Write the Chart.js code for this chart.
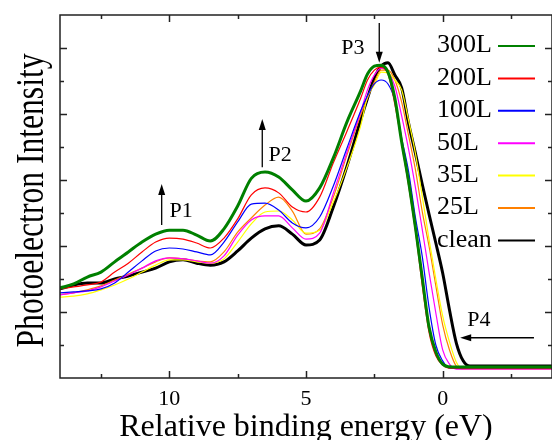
<!DOCTYPE html>
<html>
<head>
<meta charset="utf-8">
<script src="https://cdn.jsdelivr.net/npm/chart.js@4/dist/chart.umd.min.js"></script>
<style>
html, body { margin: 0; padding: 0; overflow: hidden; background: #fff; }
#wrap { width: 552px; height: 440px; overflow: hidden; }
</style>
</head>
<body>
<div id="wrap"><canvas id="xpsChart" width="560" height="440"></canvas></div>
<script>
// relative binding energy (eV), shared by all spectra
const energies = [14, 13.5, 13, 12.5, 12, 11.5, 11, 10.5, 10, 9.5, 9, 8.5, 8, 7.5, 7, 6.5, 6, 5.5, 5, 4.5,
    4, 3.5, 3, 2.75, 2.5, 2.25, 2, 1.75, 1.5, 1.25, 1, 0.75, 0.5, 0.25, 0, -0.25, -0.5, -0.75, -1, -2, -3, -4];

const int300L = [2.73, 2.85, 3.06, 3.21, 3.52, 3.82, 4.12, 4.36, 4.48, 4.48, 4.33, 4.15, 4.52, 5.21, 6.05, 6.24, 6.09, 5.70, 5.36, 5.76,
    6.67, 7.76, 8.70, 9.21, 9.45, 9.48, 9.27, 8.48, 7.15, 5.97, 4.58, 3.06, 1.55, 0.79, 0.42, 0.34, 0.33, 0.33, 0.33, 0.33, 0.33, 0.33];
const int200L = [2.70, 2.76, 2.82, 2.91, 3.21, 3.48, 3.82, 4.12, 4.24, 4.21, 4.09, 3.94, 4.24, 4.82, 5.55, 5.76, 5.61, 5.18, 5.03, 5.48,
    6.52, 7.48, 8.48, 9.03, 9.33, 9.42, 9.21, 8.30, 7.12, 5.85, 4.48, 2.82, 1.39, 0.67, 0.39, 0.30, 0.30, 0.30, 0.30, 0.30, 0.30, 0.30];
const int100L = [2.58, 2.61, 2.64, 2.70, 2.88, 3.21, 3.55, 3.85, 3.94, 3.91, 3.82, 3.73, 4.12, 4.73, 5.27, 5.30, 5.09, 4.70, 4.55, 4.88,
    5.82, 6.97, 8.09, 8.55, 8.91, 9.03, 8.91, 8.40, 7.27, 6.27, 4.88, 3.70, 2.15, 1.00, 0.52, 0.30, 0.30, 0.30, 0.30, 0.30, 0.30, 0.30];
const int50L = [2.52, 2.58, 2.64, 2.76, 2.94, 3.12, 3.33, 3.55, 3.64, 3.61, 3.55, 3.48, 3.70, 4.33, 4.79, 4.91, 4.91, 4.55, 4.21, 4.39,
    5.60, 6.85, 8.06, 8.73, 9.18, 9.39, 9.27, 8.85, 7.94, 6.94, 5.79, 4.52, 3.21, 1.97, 0.85, 0.42, 0.27, 0.27, 0.27, 0.27, 0.27, 0.27];
const int35L = [2.45, 2.48, 2.55, 2.67, 2.82, 3.00, 3.21, 3.42, 3.58, 3.58, 3.52, 3.48, 3.61, 4.12, 4.67, 5.03, 5.06, 4.79, 4.39, 4.48,
    5.33, 6.39, 7.64, 8.52, 8.88, 9.27, 9.24, 9.03, 8.73, 7.82, 6.82, 5.52, 4.21, 3.00, 1.88, 1.09, 0.48, 0.27, 0.27, 0.27, 0.27, 0.27];
const int25L = [2.52, 2.58, 2.67, 2.79, 2.97, 3.15, 3.33, 3.52, 3.64, 3.61, 3.55, 3.52, 3.82, 4.42, 4.85, 5.24, 5.48, 5.06, 4.36, 4.52,
    5.48, 6.76, 7.97, 8.48, 8.97, 9.33, 9.33, 9.03, 8.36, 7.36, 6.33, 5.06, 4.00, 2.79, 1.61, 0.85, 0.36, 0.27, 0.27, 0.27, 0.27, 0.27];
const intClean = [2.70, 2.82, 2.88, 2.88, 3.00, 3.09, 3.21, 3.33, 3.52, 3.58, 3.48, 3.42, 3.52, 3.85, 4.24, 4.52, 4.61, 4.36, 4.03, 4.18,
    5.18, 6.42, 7.82, 8.48, 9.09, 9.45, 9.55, 9.18, 8.79, 7.73, 6.82, 5.88, 4.97, 4.09, 3.18, 2.06, 1.06, 0.52, 0.36, 0.36, 0.36, 0.36];

const seriesLabels = ['300L', '200L', '100L', '50L', '35L', '25L', 'clean'];
const seriesData = [int300L, int200L, int100L, int50L, int35L, int25L, intClean];
const seriesColors = ['#008000', '#ff0000', '#0000ff', '#ff00ff', '#ffff00', '#ff8000', '#000000'];
const seriesWidths = [3, 1.2, 1.2, 1.2, 1.2, 1.2, 3];

const xTickLabels = [10, 5, 0];

// peak markers: arrow from (x1,y1) to (x2,y2), label at (lx,ly)
const peakMarks = [
    { text: 'P1', x1: 10.28, y1: 4.64, x2: 10.28, y2: 5.88, lx: 9.99, ly: 5.06 },
    { text: 'P2', x1: 6.60, y1: 6.39, x2: 6.60, y2: 7.85, lx: 6.37, ly: 6.76 },
    { text: 'P3', x1: 2.32, y1: 10.76, x2: 2.32, y2: 9.55, lx: 3.71, ly: 10.0 },
    { text: 'P4', x1: -3.34, y1: 1.22, x2: -0.64, y2: 1.22, lx: -0.90, ly: 1.76 }
];

const SERIF = '"Liberation Serif", "Times New Roman", serif';

const frameTicks = {
    id: 'frameTicks',
    afterDraw(chart) {
        const { ctx, chartArea: a, scales: { x, y } } = chart;
        ctx.save();
        ctx.strokeStyle = '#222';
        ctx.lineWidth = 1.5;
        ctx.strokeRect(a.left, a.top, a.right - a.left, a.bottom - a.top);
        ctx.beginPath();
        x.ticks.forEach(t => {
            if (t.value <= x.min || t.value >= x.max) return;
            const px = Math.round(x.getPixelForValue(t.value)) + 0.5;
            const len = t.value % 5 === 0 ? 7 : 4;
            ctx.moveTo(px, a.bottom); ctx.lineTo(px, a.bottom - len);
            ctx.moveTo(px, a.top); ctx.lineTo(px, a.top + len);
        });
        y.ticks.forEach(t => {
            if (t.value <= y.min || t.value >= y.max) return;
            const py = Math.round(y.getPixelForValue(t.value)) + 0.5;
            const len = t.value % 2 === 0 ? 7 : 4;
            ctx.moveTo(a.left, py); ctx.lineTo(a.left + len, py);
            ctx.moveTo(a.right, py); ctx.lineTo(a.right - len, py);
        });
        ctx.stroke();
        ctx.restore();
    }
};

const peakArrows = {
    id: 'peakArrows',
    afterDraw(chart) {
        const { ctx, scales: { x, y } } = chart;
        ctx.save();
        ctx.strokeStyle = '#000';
        ctx.fillStyle = '#000';
        ctx.lineWidth = 1.3;
        peakMarks.forEach(m => {
            const x1 = x.getPixelForValue(m.x1), y1 = y.getPixelForValue(m.y1);
            const x2 = x.getPixelForValue(m.x2), y2 = y.getPixelForValue(m.y2);
            const ang = Math.atan2(y2 - y1, x2 - x1);
            ctx.beginPath();
            ctx.moveTo(x1, y1);
            ctx.lineTo(x2 - 8 * Math.cos(ang), y2 - 8 * Math.sin(ang));
            ctx.stroke();
            ctx.beginPath();
            ctx.moveTo(x2, y2);
            ctx.lineTo(x2 - 11 * Math.cos(ang) + 3.5 * Math.sin(ang), y2 - 11 * Math.sin(ang) - 3.5 * Math.cos(ang));
            ctx.lineTo(x2 - 11 * Math.cos(ang) - 3.5 * Math.sin(ang), y2 - 11 * Math.sin(ang) + 3.5 * Math.cos(ang));
            ctx.closePath();
            ctx.fill();
            ctx.font = '22px ' + SERIF;
            ctx.textAlign = 'left';
            ctx.textBaseline = 'middle';
            ctx.fillText(m.text, x.getPixelForValue(m.lx), y.getPixelForValue(m.ly));
        });
        ctx.restore();
    }
};

const insideLegend = {
    id: 'insideLegend',
    afterDraw(chart) {
        const { ctx, chartArea: a } = chart;
        ctx.save();
        ctx.font = '26px ' + SERIF;
        ctx.textAlign = 'left';
        ctx.textBaseline = 'middle';
        chart.data.datasets.forEach((ds, i) => {
            const ty = a.top + 30.5 + i * 32.4;
            ctx.fillStyle = '#000';
            ctx.fillText(ds.label, 437, ty);
            ctx.strokeStyle = ds.borderColor;
            ctx.lineWidth = 2;
            ctx.beginPath();
            ctx.moveTo(498, ty + 0.5);
            ctx.lineTo(535, ty + 0.5);
            ctx.stroke();
        });
        ctx.restore();
    }
};

const yTitle = {
    id: 'yTitle',
    afterDraw(chart) {
        const { ctx, chartArea: a } = chart;
        ctx.save();
        ctx.translate(43, (a.top + a.bottom) / 2 + 4);
        ctx.rotate(-Math.PI / 2);
        ctx.scale(0.79, 1);
        ctx.font = '40px ' + SERIF;
        ctx.fillStyle = '#000';
        ctx.textAlign = 'center';
        ctx.textBaseline = 'alphabetic';
        ctx.fillText('Photoelectron Intensity', 0, 0);
        ctx.restore();
    }
};

const datasets = seriesLabels.map((label, i) => ({
    label: label,
    data: energies.map((e, j) => ({ x: e, y: seriesData[i][j] })),
    borderColor: seriesColors[i],
    borderWidth: seriesWidths[i],
    pointRadius: 0,
    fill: false,
    cubicInterpolationMode: 'monotone'
}));

new Chart(document.getElementById('xpsChart'), {
    type: 'line',
    data: { datasets: datasets },
    options: {
        responsive: false,
        devicePixelRatio: 1,
        animation: false,
        layout: { padding: { top: 15, right: 7, left: 0, bottom: 0 } },
        plugins: {
            legend: { display: false },
            tooltip: { enabled: false }
        },
        scales: {
            x: {
                type: 'linear',
                reverse: true,
                min: -4,
                max: 14,
                afterFit: (s) => { s.height = 62; },
                grid: { display: false, drawTicks: false },
                border: { display: false },
                ticks: {
                    stepSize: 2.5,
                    autoSkip: false,
                    maxRotation: 0,
                    padding: 8,
                    color: '#000',
                    font: { family: SERIF, size: 22 },
                    callback: (v) => xTickLabels.includes(v) ? String(v) : ''
                },
                title: {
                    display: true,
                    text: 'Relative binding energy (eV)',
                    color: '#000',
                    padding: 0,
                    font: { family: SERIF, size: 32, lineHeight: 0.8 }
                }
            },
            y: {
                min: 0,
                max: 11,
                afterFit: (s) => { s.width = 60; },
                grid: { display: false, drawTicks: false },
                border: { display: false },
                ticks: { stepSize: 1, display: false }
            }
        }
    },
    plugins: [frameTicks, peakArrows, insideLegend, yTitle]
});
</script>
</body>
</html>
